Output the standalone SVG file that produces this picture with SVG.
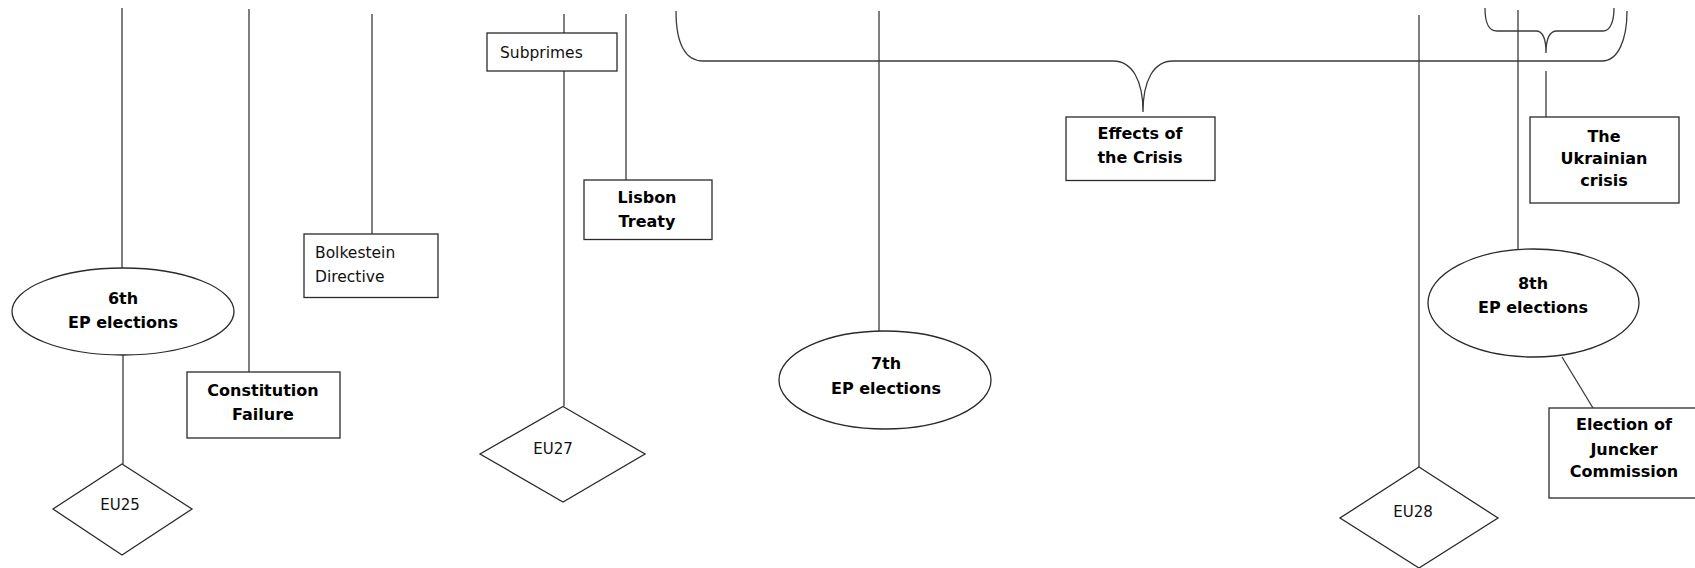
<svg xmlns="http://www.w3.org/2000/svg" width="1695" height="568" viewBox="0 0 1695 568">
<style>
.ln{fill:none;stroke:#3a3a3a;stroke-width:1.3}
.sh{fill:#fff;stroke:#2a2a2a;stroke-width:1.3}
.b{font-family:"DejaVu Sans",Verdana,sans-serif;font-size:16px;font-weight:bold;fill:#000;text-anchor:middle}
.n{font-family:"DejaVu Sans",Verdana,sans-serif;font-size:15.5px;fill:#111}
.nc{font-family:"DejaVu Sans",Verdana,sans-serif;font-size:15px;fill:#111;text-anchor:middle}
</style>
<rect width="1695" height="568" fill="#fff"/>
<g id="connectors">
<line class="ln" x1="122" y1="8" x2="122" y2="268"/>
<line class="ln" x1="123" y1="355" x2="123" y2="464"/>
<line class="ln" x1="249" y1="9" x2="249" y2="372"/>
<line class="ln" x1="372" y1="14" x2="372" y2="234"/>
<line class="ln" x1="564" y1="14" x2="564" y2="406"/>
<line class="ln" x1="626" y1="14" x2="626" y2="180"/>
<line class="ln" x1="879" y1="11" x2="879" y2="331"/>
<line class="ln" x1="1419" y1="15" x2="1419" y2="467"/>
<line class="ln" x1="1518" y1="10" x2="1518" y2="249"/>
<line class="ln" x1="1546" y1="71" x2="1546" y2="117"/>
<line class="ln" x1="1562" y1="357" x2="1593" y2="408"/>
<path class="ln" d="M676,11 C676,45 686,61 703,61 L1113,61 C1132,61 1143,80 1143,112 C1143,80 1154,61 1173,61 L1602,61 C1618,61 1627,40 1627,11"/>
<path class="ln" d="M1485,8 C1485,22 1488,31 1497,31 L1536,31 C1542,31 1546,38 1546,53 C1546,38 1550,31 1557,31 L1603,31 C1610,31 1614,22 1614,8"/>
</g>
<g id="ep6">
<ellipse class="sh" cx="123" cy="311.5" rx="111" ry="43.5"/>
<text class="b" x="123" y="304">6th</text>
<text class="b" x="123" y="328">EP elections</text>
</g>
<g id="eu25">
<polygon class="sh" points="122,464 192,509 122,555 53,509"/>
<text class="nc" x="120" y="510">EU25</text>
</g>
<g id="constitution">
<rect class="sh" x="187" y="372" width="153" height="66"/>
<text class="b" x="263" y="396">Constitution</text>
<text class="b" x="263" y="420">Failure</text>
</g>
<g id="bolkestein">
<rect class="sh" x="304" y="234" width="134" height="63.5"/>
<text class="n" x="315" y="258">Bolkestein</text>
<text class="n" x="315" y="282">Directive</text>
</g>
<g id="subprimes">
<rect class="sh" x="487" y="33" width="130" height="38"/>
<text class="n" x="500" y="58">Subprimes</text>
</g>
<g id="lisbon">
<rect class="sh" x="584" y="180" width="128" height="59.5"/>
<text class="b" x="647" y="203">Lisbon</text>
<text class="b" x="647" y="227">Treaty</text>
</g>
<g id="eu27">
<polygon class="sh" points="563,406.5 645,454 563,502 480,454"/>
<text class="nc" x="553" y="454">EU27</text>
</g>
<g id="ep7">
<ellipse class="sh" cx="885" cy="380" rx="106" ry="49"/>
<text class="b" x="886" y="369">7th</text>
<text class="b" x="886" y="394">EP elections</text>
</g>
<g id="effects">
<rect class="sh" x="1066" y="117" width="149" height="63.5"/>
<text class="b" x="1140" y="139">Effects of</text>
<text class="b" x="1140" y="163">the Crisis</text>
</g>
<g id="eu28">
<polygon class="sh" points="1419,467 1498,518 1419,568 1340,518"/>
<text class="nc" x="1413" y="517">EU28</text>
</g>
<g id="ukraine">
<rect class="sh" x="1530" y="117" width="149" height="86"/>
<text class="b" x="1604" y="142">The</text>
<text class="b" x="1604" y="164">Ukrainian</text>
<text class="b" x="1604" y="186">crisis</text>
</g>
<g id="ep8">
<ellipse class="sh" cx="1533.5" cy="303" rx="105.5" ry="54"/>
<text class="b" x="1533" y="289">8th</text>
<text class="b" x="1533" y="313">EP elections</text>
</g>
<g id="juncker">
<rect class="sh" x="1549" y="408" width="148" height="90"/>
<text class="b" x="1624" y="430">Election of</text>
<text class="b" x="1624" y="455">Juncker</text>
<text class="b" x="1624" y="477">Commission</text>
</g>
</svg>
